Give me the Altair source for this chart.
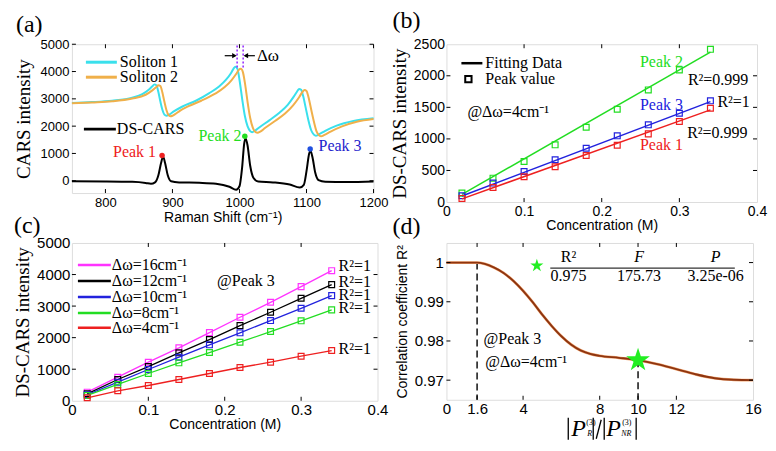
import altair as alt
import pandas as pd

SERIF = "Liberation Serif"
SANS = "Liberation Sans"

# ---------------- panel (a) data ----------------
sol1_x = [750, 780, 810, 840, 855, 865, 870, 873, 876, 879, 882, 885, 888, 891, 895, 902, 915, 935, 955, 970,
          980, 987, 991, 994, 997, 1000, 1004, 1008, 1012, 1016, 1019, 1023, 1030, 1045, 1060, 1072, 1081, 1086,
          1089, 1092, 1095, 1099, 1103, 1107, 1111, 1114, 1118, 1128, 1145, 1170, 1200]
sol1_y = [2850, 2880, 2930, 3040, 3170, 3340, 3460, 3530, 3500, 3250, 2900, 2600, 2420, 2380, 2420, 2540, 2720,
          2930, 3210, 3460, 3700, 3930, 4100, 4180, 4100, 3700, 3000, 2380, 2000, 1820, 1780, 1830, 1960, 2220,
          2500, 2780, 3080, 3270, 3360, 3330, 3100, 2650, 2200, 1850, 1690, 1650, 1690, 1830, 2020, 2190, 2290]
sol2_x = [750, 780, 810, 840, 860, 870, 876, 879, 882, 885, 888, 891, 894, 897, 900, 904, 911, 924, 943, 963,
          978, 988, 995, 999, 1002, 1005, 1008, 1012, 1016, 1020, 1024, 1027, 1031, 1038, 1053, 1068, 1080, 1089,
          1094, 1097, 1100, 1103, 1107, 1111, 1115, 1119, 1122, 1126, 1136, 1153, 1175, 1200]
sol2_y = [2840, 2870, 2910, 3010, 3150, 3310, 3430, 3500, 3470, 3230, 2890, 2590, 2410, 2360, 2380, 2440, 2560,
          2730, 2930, 3180, 3430, 3680, 3910, 4060, 4100, 3990, 3600, 2900, 2300, 1940, 1780, 1760, 1800, 1930,
          2190, 2460, 2760, 3060, 3250, 3320, 3290, 3060, 2610, 2170, 1810, 1660, 1630, 1670, 1800, 1990, 2160, 2260]
ds_x = [750, 800, 840, 860, 868, 874, 879, 883, 886, 889, 893, 898, 910, 940, 965, 985, 995, 1000, 1004, 1007,
        1009, 1012, 1016, 1021, 1028, 1050, 1075, 1090, 1096, 1100, 1104, 1106, 1109, 1113, 1118, 1128, 1160, 1200]
ds_y = [-20, -25, -40, -80, -110, -60, 200, 650, 880, 650, 200, -20, -60, -75, -110, -220, -330, -200, 500, 1350,
        1560, 1300, 550, 100, -30, -60, -140, -250, -150, 350, 1000, 1100, 850, 300, 20, -40, -50, -30]
peak_names = ["Peak 1", "Peak 2", "Peak 3"]
peak_pos = [884.5, 1008, 1105.5]
peak_val = [926, 1630, 1160]
peak_label_x = [875.5, 1003, 1118]
peak_label_y = [1048, 1641, 1259]
delta_lines_x = [996.5, 1005.5]

# ---------------- panel (b) data ----------------
conc = [0.02, 0.06, 0.10, 0.14, 0.18, 0.22, 0.26, 0.30, 0.34]
b_peak1 = [57, 231, 400, 558, 737, 900, 1080, 1275, 1486]
b_peak2 = [141, 378, 642, 906, 1185, 1470, 1776, 2093, 2419]
b_peak3 = [99, 300, 484, 669, 853, 1049, 1223, 1407, 1603]
fit_x = [0.02, 0.34]
fit_peak1 = [50, 1460]
fit_peak2 = [120, 2374]
fit_peak3 = [95, 1590]

# ---------------- panel (c) data ----------------
c_labels = ["Δω=16cm⁻¹", "Δω=12cm⁻¹", "Δω=10cm⁻¹", "Δω=8cm⁻¹", "Δω=4cm⁻¹"]
c_16 = [272, 747, 1222, 1677, 2161, 2646, 3120, 3617, 4123]
c_12 = [221, 674, 1085, 1518, 1940, 2383, 2804, 3247, 3680]
c_10 = [190, 589, 991, 1380, 1772, 2152, 2541, 2930, 3332]
c_8 = [168, 516, 864, 1202, 1528, 1855, 2193, 2532, 2880]
c_4 = [95, 316, 484, 674, 864, 1054, 1222, 1412, 1592]
c_r2_y = [4260, 3753, 3354, 2930, 1646]

# ---------------- panel (d) data ----------------
d_x = [0, 1.6, 2, 2.5, 3, 3.5, 4, 4.5, 5, 5.5, 6, 6.5, 7, 7.5, 8, 9, 10, 11, 12, 13, 14, 15, 16]
d_y = [1.0, 1.0, 0.99966, 0.9987, 0.9973, 0.9953, 0.9928, 0.9899, 0.9867, 0.9838, 0.9812, 0.9791, 0.9776,
       0.9767, 0.9762, 0.9757, 0.9751, 0.9741, 0.9728, 0.9715, 0.9705, 0.9701, 0.9700]
d_best_x, d_best_y = 10, 0.9751
table_head = ["R²", "F", "P"]
table_vals = ["0.975", "175.73", "3.25e-06"]
table_cols = [6.37, 10.05, 14.05]

CYAN, ORANGE = "#3ae0ec", "#f0b04a"
RED, GREEN, BLUE, MAG = "#ee2020", "#22dd22", "#2222dd", "#ff33ff"
BROWN = "#8e3510"
STAR = ("M0,-1L0.2245,-0.309L0.951,-0.309L0.363,0.118L0.588,0.809L0,0.382L-0.588,0.809"
        "L-0.363,0.118L-0.951,-0.309L-0.2245,-0.309Z")

ONE = pd.DataFrame({"k": [0]})


def axis(title, values, fmt, tfont, tsize, lsize, tpad, lpad, extent=None):
    args = dict(title=title, values=values, format=fmt, titleFont=tfont, titleFontSize=tsize,
                titleFontWeight="normal", titleColor="black", labelFont=SANS, labelFontSize=lsize,
                labelColor="black", labelPadding=lpad, titlePadding=tpad, grid=False, ticks=False,
                domain=False, labelFlush=False, labelOverlap=False)
    if extent is not None:
        args.update(minExtent=extent, maxExtent=extent)
    return alt.Axis(**args)


def ticks(X, Y, xv, yv, W, H, L=4):
    dx = pd.DataFrame({"x": xv})
    dy = pd.DataFrame({"y": yv})
    return [
        alt.Chart(dx).mark_rule(color="black", strokeWidth=1).encode(x=X, y=alt.value(H), y2=alt.value(H - L)),
        alt.Chart(dx).mark_rule(color="black", strokeWidth=1).encode(x=X, y=alt.value(0), y2=alt.value(L)),
        alt.Chart(dy).mark_rule(color="black", strokeWidth=1).encode(y=Y, x=alt.value(0), x2=alt.value(L)),
        alt.Chart(dy).mark_rule(color="black", strokeWidth=1).encode(y=Y, x=alt.value(W), x2=alt.value(W - L)),
    ]


def vtext(txt, x, y, size=16, color="black", align="left", font=SERIF, style="normal", baseline="middle"):
    return alt.Chart(ONE).mark_text(text=txt, align=align, baseline=baseline, font=font, fontSize=size,
                                    color=color, fontStyle=style).encode(x=alt.value(x), y=alt.value(y))


def vrule(x1, x2, y1, y2, color="black", w=1.5, dash=None):
    kw = dict(color=color, strokeWidth=w)
    if dash:
        kw["strokeDash"] = dash
    return alt.Chart(ONE).mark_rule(**kw).encode(x=alt.value(x1), x2=alt.value(x2), y=alt.value(y1), y2=alt.value(y2))


def dtext(df, X, Y, size=16, color="black", align="left", style="normal"):
    return alt.Chart(df).mark_text(align=align, baseline="middle", font=SERIF, fontSize=size, color=color,
                                   fontStyle=style).encode(x=X, y=Y, text="t:N")


# ================= panel (a) =================
WA, HA = 302, 149
XA = alt.X("x:Q", scale=alt.Scale(domain=[750, 1200], nice=False, zero=False),
           axis=axis("Raman Shift (cm⁻¹)", [800, 900, 1000, 1100, 1200], "d", SANS, 14, 13, 1, 3))
YA = alt.Y("y:Q", scale=alt.Scale(domain=[-450, 5000], nice=False, zero=False),
           axis=axis("CARS intensity", [0, 1000, 2000, 3000, 4000, 5000], "d", SERIF, 19, 13, 6.5, 3, 32))

la = []
for xs, ys, col in [(sol1_x, sol1_y, CYAN), (sol2_x, sol2_y, ORANGE), (ds_x, ds_y, "black")]:
    la.append(alt.Chart(pd.DataFrame({"x": xs, "y": ys})).mark_line(color=col, strokeWidth=2, interpolate="monotone")
              .encode(x=XA, y=YA))
pcols = [RED, GREEN, "#2050e0"]
tcols = [RED, GREEN, "#2222cc"]
for i in range(3):
    la.append(alt.Chart(pd.DataFrame({"x": [peak_pos[i]], "y": [peak_val[i]]}))
              .mark_circle(size=30, color=pcols[i], opacity=1).encode(x=XA, y=YA))
    la.append(dtext(pd.DataFrame({"x": [peak_label_x[i]], "y": [peak_label_y[i]], "t": [peak_names[i]]}),
                    XA, YA, color=tcols[i], align="right" if i < 2 else "left"))
# delta-omega annotation
for xv in delta_lines_x:
    la.append(alt.Chart(pd.DataFrame({"x": [xv], "y": [4150], "y2": [5000]}))
              .mark_rule(color="#9933ff", strokeWidth=1.6, strokeDash=[2, 2]).encode(x=XA, y=YA, y2="y2:Q"))
la.append(alt.Chart(pd.DataFrame({"x": [978], "x2": [993], "y": [4580]})).mark_rule(color="black", strokeWidth=1.2)
          .encode(x=XA, x2="x2:Q", y=YA))
la.append(alt.Chart(pd.DataFrame({"x": [1009], "x2": [1023], "y": [4580]})).mark_rule(color="black", strokeWidth=1.2)
          .encode(x=XA, x2="x2:Q", y=YA))
la.append(alt.Chart(pd.DataFrame({"x": [992.5], "y": [4580]}))
          .mark_point(shape="triangle-right", filled=True, size=28, color="black", opacity=1).encode(x=XA, y=YA))
la.append(alt.Chart(pd.DataFrame({"x": [1009.5], "y": [4580]}))
          .mark_point(shape="triangle-left", filled=True, size=28, color="black", opacity=1).encode(x=XA, y=YA))
la.append(dtext(pd.DataFrame({"x": [1026], "y": [4560], "t": ["Δω"]}), XA, YA, size=17))
# legend
la += [vrule(14, 45, 18, 18, CYAN, 3), vtext("Soliton 1", 48, 18),
       vrule(14, 45, 33, 33, ORANGE, 3), vtext("Soliton 2", 48, 33),
       vrule(12, 44, 85, 85, "black", 3), vtext("DS-CARS", 45, 85),
       vtext("(a)", -56, -12, size=24, baseline="alphabetic")]
la += ticks(XA, YA, [800, 900, 1000, 1100, 1200], [0, 1000, 2000, 3000, 4000, 5000], WA, HA)
panel_a = alt.layer(*la).properties(width=WA, height=HA)

# ================= panel (b) =================
WB, HB = 311, 158
XB = alt.X("x:Q", scale=alt.Scale(domain=[0, 0.4], nice=False, zero=False),
           axis=axis("Concentration (M)", [0, 0.1, 0.2, 0.3, 0.4], "~g", SANS, 14, 14, 1, 2))
YB = alt.Y("y:Q", scale=alt.Scale(domain=[0, 2500], nice=False, zero=False),
           axis=axis("DS-CARS intensity", [0, 500, 1000, 1500, 2000, 2500], "d", SERIF, 19, 14, 3.5, 2, 33))
lb = []
for ys, fy, col in [(b_peak2, fit_peak2, GREEN), (b_peak3, fit_peak3, BLUE), (b_peak1, fit_peak1, RED)]:
    lb.append(alt.Chart(pd.DataFrame({"x": fit_x, "y": fy})).mark_line(color=col, strokeWidth=1.5)
              .encode(x=XB, y=YB))
    lb.append(alt.Chart(pd.DataFrame({"x": conc, "y": ys}))
              .mark_point(shape="square", filled=False, size=34, strokeWidth=1.2, color=col, opacity=1)
              .encode(x=XB, y=YB))
b_notes = pd.DataFrame({
    "x": [0.277, 0.277, 0.277],
    "y": [2225, 1545, 905],
    "t": ["Peak 2", "Peak 3", "Peak 1"],
})
for i, col in enumerate([GREEN, BLUE, RED]):
    lb.append(dtext(b_notes.iloc[[i]], XB, YB, color=col, align="center"))
b_r2 = pd.DataFrame({"x": [0.311, 0.349, 0.310], "y": [1935, 1590, 1100], "t": ["R²=0.999", "R²=1", "R²=0.999"]})
lb.append(dtext(b_r2, XB, YB))
lb.append(dtext(pd.DataFrame({"x": [0.027], "y": [1433], "t": ["@Δω=4cm⁻¹"]}), XB, YB))
lb += [vrule(15, 36, 19, 19, "black", 2.5), vtext("Fitting Data", 39, 19),
       alt.Chart(ONE).mark_point(shape="square", filled=False, size=40, strokeWidth=2, color="black", opacity=1)
       .encode(x=alt.value(22), y=alt.value(35)),
       vtext("Peak value", 39, 35),
       vtext("(b)", -54, -16, size=24, baseline="alphabetic")]
lb += ticks(XB, YB, [0.1, 0.2, 0.3], [500, 1000, 1500, 2000], WB, HB)
panel_b = alt.layer(*lb).properties(width=WB, height=HB)

# ================= panel (c) =================
WC, HC = 306, 158
XC = alt.X("x:Q", scale=alt.Scale(domain=[0, 0.4], nice=False, zero=False),
           axis=axis("Concentration (M)", [0, 0.1, 0.2, 0.3, 0.4], "~g", SANS, 14, 15, 0, 2))
YC = alt.Y("y:Q", scale=alt.Scale(domain=[0, 5000], nice=False, zero=False),
           axis=axis("DS-CARS intensity", [0, 1000, 2000, 3000, 4000, 5000], "d", SERIF, 19, 15, 3, 2, 36))
lc = []
c_series = [c_16, c_12, c_10, c_8, c_4]
c_cols = [MAG, "black", BLUE, GREEN, RED]
for ys, col in zip(c_series, c_cols):
    d = pd.DataFrame({"x": conc, "y": ys})
    lc.append(alt.Chart(d).mark_line(color=col, strokeWidth=1.3).encode(x=XC, y=YC))
    lc.append(alt.Chart(d).mark_point(shape="square", filled=False, size=34, strokeWidth=1.2, color=col, opacity=1)
              .encode(x=XC, y=YC))
lc.append(dtext(pd.DataFrame({"x": [0.349] * 5, "y": c_r2_y, "t": ["R²=1"] * 5}), XC, YC))
lc.append(dtext(pd.DataFrame({"x": [0.19], "y": [3807], "t": ["@Peak 3"]}), XC, YC))
for i, (lab, col) in enumerate(zip(c_labels, c_cols)):
    yy = [22, 38, 54, 70, 85][i]
    lc += [vrule(6, 39, yy, yy, col, 2.5), vtext(lab, 40, yy)]
lc.append(vtext("(c)", -58, -10, size=24, baseline="alphabetic"))
lc += ticks(XC, YC, [0.1, 0.2, 0.3], [1000, 2000, 3000, 4000], WC, HC)
panel_c = alt.layer(*lc).properties(width=WC, height=HC)

# ================= panel (d) =================
WD, HD = 307, 157
XD = alt.X("x:Q", scale=alt.Scale(domain=[0, 16], nice=False, zero=False),
           axis=axis(None, [0, 1.6, 4, 8, 10, 12, 16], "~g", SANS, 14, 15, 0, 2))
YD = alt.Y("y:Q", scale=alt.Scale(domain=[0.965, 1.005], nice=False, zero=False),
           axis=axis("Correlation coefficient R²", [0.97, 0.98, 0.99, 1.0], "~g", SANS, 14, 15, 4.5, 3, 32))
ld = []
ld.append(alt.Chart(pd.DataFrame({"x": [1.6], "y": [1.0], "y2": [0.965]}))
          .mark_rule(color="black", strokeWidth=1.4, strokeDash=[7, 4]).encode(x=XD, y=YD, y2="y2:Q"))
ld.append(alt.Chart(pd.DataFrame({"x": [d_best_x], "y": [d_best_y], "y2": [0.965]}))
          .mark_rule(color="black", strokeWidth=1.4, strokeDash=[7, 4]).encode(x=XD, y=YD, y2="y2:Q"))
ld.append(alt.Chart(pd.DataFrame({"x": d_x, "y": d_y})).mark_line(color="#f2a874", strokeWidth=2.8,
                                                                   interpolate="monotone").encode(x=XD, y=YD))
ld.append(alt.Chart(pd.DataFrame({"x": d_x, "y": d_y})).mark_line(color=BROWN, strokeWidth=1.9,
                                                                   interpolate="monotone").encode(x=XD, y=YD))
ld.append(alt.Chart(pd.DataFrame({"x": [d_best_x], "y": [d_best_y]}))
          .mark_point(shape=STAR, filled=True, size=620, color="#22ee22", opacity=1).encode(x=XD, y=YD))
ld.append(alt.Chart(pd.DataFrame({"x": [4.72], "y": [0.9992]}))
          .mark_point(shape=STAR, filled=True, size=190, color="#22ee22", opacity=1).encode(x=XD, y=YD))
ld.append(alt.Chart(pd.DataFrame({"x": [5.42], "x2": [15.05], "y": [0.9986]}))
          .mark_rule(color="#333333", strokeWidth=1.3).encode(x=XD, x2="x2:Q", y=YD))
for i in range(3):
    ld.append(dtext(pd.DataFrame({"x": [table_cols[i]], "y": [1.00135], "t": [table_head[i]]}), XD, YD,
                    align="center", style="normal" if i == 0 else "italic"))
    ld.append(dtext(pd.DataFrame({"x": [table_cols[i]], "y": [0.99646], "t": [table_vals[i]]}), XD, YD,
                    align="center"))
ld.append(dtext(pd.DataFrame({"x": [1.94, 2.03], "y": [0.9805, 0.9747], "t": ["@Peak 3", "@Δω=4cm⁻¹"]}), XD, YD))
# x-axis title |P_R^(3)| / |P_NR^(3)|
ld += [vrule(122, 122, 175, 197, "black", 1.3), vrule(147, 147, 175, 197, "black", 1.3),
       vrule(155, 150, 177, 196, "black", 1.3), vrule(158, 158, 175, 197, "black", 1.3),
       vrule(190, 190, 175, 197, "black", 1.3),
       vtext("P", 125, 193, size=24, style="italic", baseline="alphabetic"),
       vtext("(3)", 140, 180, size=8), vtext("R", 141, 191, size=8, style="italic"),
       vtext("P", 160, 193, size=24, style="italic", baseline="alphabetic"),
       vtext("(3)", 176, 180, size=8), vtext("NR", 175, 191, size=8, style="italic"),
       vtext("(d)", -54, -9, size=24, baseline="alphabetic")]
ld += ticks(XD, YD, [1.6, 4, 8, 10, 12], [0.97, 0.98, 0.99, 1.0], WD, HD)
panel_d = alt.layer(*ld).properties(width=WD, height=HD)

chart = alt.concat(panel_a, panel_b, panel_c, panel_d, columns=2,
                   spacing={"row": 41, "column": 69}, bounds="flush").properties(
    padding={"left": 5, "top": 0, "right": 0, "bottom": 0}
).configure_view(stroke="black", strokeWidth=1.6).configure(background="white")

chart.save("out.html", embed_options={"renderer": "svg", "actions": False})
